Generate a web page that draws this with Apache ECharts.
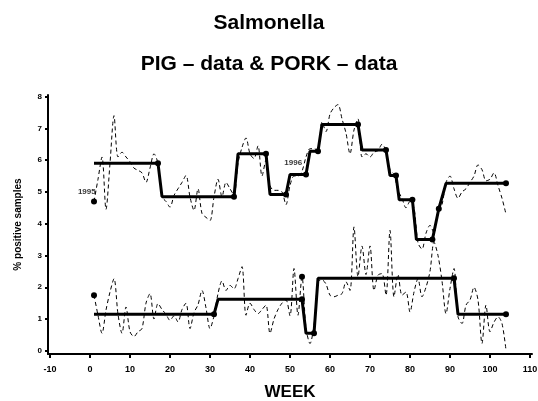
<!DOCTYPE html>
<html>
<head>
<meta charset="utf-8">
<script src="https://cdn.jsdelivr.net/npm/echarts@6/dist/echarts.min.js"></script>
<style>html,body{margin:0;padding:0;background:#fff}#c{width:538px;height:401px}</style>
</head>
<body>
<div id="c"></div>
<script>
// Weeks 1..104
const weeks = Array.from({length: 104}, (_, i) => i + 1);

// Upper series (weekly % positive, dashed)
const upperWeekly = [
  4.7, 5.4, 6.1, 4.45, 5.9, 7.4, 6.1, 6.25, 6.1, 5.95,
  5.75, 5.68, 5.6, 5.3, 5.75, 6.2, 5.9, 4.85, 4.7, 4.52,
  4.89, 5.1, 5.3, 5.52, 4.84, 4.42, 5.1, 4.32, 4.2, 4.1,
  4.84, 5.4, 4.85, 5.3, 5.1, 4.9, 5.9, 6.4, 6.7, 6.2,
  6.05, 6.45, 5.5, 6.0, 5.2, 5.05, 5.05, 5.0, 4.6, 5.2,
  5.5, 5.5, 5.65, 6.1, 6.36, 6.36, 6.3, 7.2, 6.9, 7.45,
  7.65, 7.75, 7.3, 6.85, 6.2, 6.95, 7.3, 6.1, 6.2, 6.1,
  6.25, 6.3, 6.5, 6.3, 5.7, 5.55, 5.05, 4.8, 4.5, 4.7,
  4.5, 3.4, 3.2, 3.7, 3.95, 3.7, 4.4, 4.6, 5.3, 5.5,
  5.1, 4.8, 5.0, 5.1, 5.3, 5.5, 5.85, 5.7, 5.35, 5.4,
  5.6, 5.2, 4.8, 4.3
];

// Lower series (weekly % positive, dashed)
const lowerWeekly = [
  1.75, 1.12, 0.55, 1.28, 1.85, 2.27, 1.15, 0.55, 1.38, 0.6,
  0.45, 0.6, 0.7, 1.5, 1.8, 1.0, 1.49, 1.3, 1.15, 0.96,
  1.1, 0.91, 1.3, 1.5, 0.7, 1.2, 1.45, 1.9, 1.35, 0.7,
  1.1, 1.8, 2.2, 1.9, 2.06, 1.95, 2.27, 2.65, 1.12, 1.5,
  1.3, 1.17, 1.3, 1.44, 0.55, 1.0, 1.3, 1.5, 1.6, 1.1,
  2.59, 1.12, 2.33, 0.72, 0.23, 0.8, 2.17, 2.23, 2.1, 1.75,
  1.7, 1.75, 1.8, 2.17, 1.9, 3.9, 2.33, 3.3, 2.4, 3.3,
  1.9, 2.38, 2.43, 1.75, 3.79, 1.7, 2.4, 1.75, 1.85, 1.22,
  1.85, 2.27, 1.7, 2.0, 2.5, 3.42, 3.0, 2.2, 1.17, 1.96,
  2.59, 1.07, 0.86, 1.44, 1.6, 2.0, 1.6, 0.23, 1.44, 0.6,
  0.9, 1.07, 0.86, 0.02
];

// Step (level) lines: [week, level]
const upperStep = [
  [1, 5.9], [17, 5.9], [18, 4.85], [36, 4.85], [37, 6.2], [44, 6.2],
  [45, 4.92], [49, 4.92], [50, 5.55], [54, 5.55], [55, 6.28], [57, 6.28],
  [58, 7.12], [67, 7.12], [68, 6.32], [74, 6.32], [75, 5.52], [76.5, 5.52],
  [77.3, 4.75], [80.6, 4.75], [81.6, 3.5], [85.6, 3.5], [87.2, 4.47], [89, 5.27],
  [104, 5.27]
];
const upperDots = [
  [1, 4.7], [17, 5.9], [36, 4.85], [44, 6.2], [49, 4.92], [54, 5.55], [57, 6.28],
  [67, 7.12], [74, 6.32], [76.5, 5.52], [80.6, 4.75], [85.6, 3.5], [87.2, 4.47], [104, 5.27]
];

const lowerStep = [
  [1, 1.15], [31, 1.15], [32, 1.62], [53, 1.62], [54, 0.55], [56, 0.55],
  [57, 2.28], [91, 2.28], [92, 1.15], [104, 1.15]
];
const lowerDots = [
  [1, 1.75], [31, 1.15], [53, 1.62], [53, 2.33], [56, 0.55], [91, 2.28], [104, 1.15]
];

// Year annotations: [week, value, text]
const yearLabels = [[-0.8, 5.0, '1995'], [50.8, 5.92, '1996']];

const xTicks = [-10, 0, 10, 20, 30, 40, 50, 60, 70, 80, 90, 100, 110];
const yTicks = [0, 1, 2, 3, 4, 5, 6, 7, 8];

const FONT = 'Liberation Sans';
const chart = echarts.init(document.getElementById('c'), null, {renderer: 'canvas'});

chart.setOption({
  animation: false,
  backgroundColor: '#fff',
  title: [
    {text: 'Salmonella', left: 'center', top: 8,
     textStyle: {fontFamily: FONT, fontSize: 21, fontWeight: 'bold', color: '#000'}},
    {text: 'PIG – data & PORK – data', left: 'center', top: 49,
     textStyle: {fontFamily: FONT, fontSize: 21, fontWeight: 'bold', color: '#000'}}
  ],
  grid: {left: 48, right: 6, top: 95, bottom: 47, containLabel: false, outerBoundsMode: 'none'},
  xAxis: {
    type: 'value', min: -10.5, max: 110.5,
    name: 'WEEK', nameLocation: 'middle', nameGap: 30,
    nameTextStyle: {fontFamily: FONT, fontSize: 17, fontWeight: 'bold', color: '#000'},
    axisLine: {show: true, onZero: false, lineStyle: {color: '#000', width: 2}},
    axisTick: {show: true, length: 4, customValues: xTicks, lineStyle: {color: '#000', width: 2}},
    axisLabel: {customValues: xTicks, margin: 11, fontFamily: FONT, fontSize: 9, fontWeight: 'bold', color: '#000'},
    splitLine: {show: false}
  },
  yAxis: {
    type: 'value', min: -0.1, max: 8.05,
    name: '% positive samples', nameLocation: 'middle', nameGap: 25, nameRotate: 90,
    nameTextStyle: {fontFamily: FONT, fontSize: 10, fontWeight: 'bold', color: '#000'},
    axisLine: {show: true, onZero: false, lineStyle: {color: '#000', width: 2}},
    axisTick: {show: true, length: 3, customValues: yTicks, lineStyle: {color: '#000', width: 2}},
    axisLabel: {customValues: yTicks, margin: 6, fontFamily: FONT, fontSize: 8, fontWeight: 'bold', color: '#000'},
    splitLine: {show: false}
  },
  series: [
    {type: 'line', data: weeks.map((w, i) => [w, upperWeekly[i]]), smooth: 0.3, symbol: 'none',
     lineStyle: {color: '#000', width: 1, type: [4, 3]}, z: 2},
    {type: 'line', data: weeks.map((w, i) => [w, lowerWeekly[i]]), smooth: 0.3, symbol: 'none',
     lineStyle: {color: '#000', width: 1, type: [4, 3]}, z: 2},
    {type: 'line', data: upperStep, symbol: 'none', lineStyle: {color: '#000', width: 3}, z: 3},
    {type: 'line', data: lowerStep, symbol: 'none', lineStyle: {color: '#000', width: 3}, z: 3},
    {type: 'scatter', data: upperDots, symbolSize: 6, itemStyle: {color: '#000', opacity: 1}, z: 4},
    {type: 'scatter', data: lowerDots, symbolSize: 6, itemStyle: {color: '#000', opacity: 1}, z: 4},
    {type: 'scatter', data: yearLabels.map(d => ({value: [d[0], d[1]], label: {formatter: d[2]}})),
     symbolSize: 0, z: 5,
     label: {show: true, position: 'inside', fontFamily: FONT, fontSize: 8, fontWeight: 'bold', color: '#000'}}
  ]
});
</script>
</body>
</html>
